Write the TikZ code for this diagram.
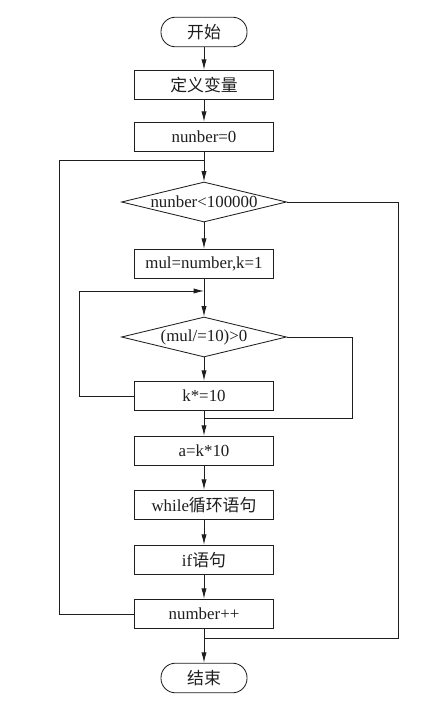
\documentclass[tikz,border=0pt]{standalone}
\usepackage{fontspec}
\setmainfont{Liberation Serif}
\newfontfamily\cjk{Noto Sans CJK SC}
\usepackage{tikz}
\usetikzlibrary{arrows.meta,shapes.geometric}
\definecolor{flink}{HTML}{1E1E1E}
\tikzset{
  fb/.style={draw=flink, text=flink, line width=0.6pt, align=center, font=\fontsize{12}{14}\selectfont},
  term/.style={fb, rounded corners=3.6mm, minimum width=2.15cm, minimum height=0.74cm},
  proc/.style={fb, minimum width=3.48cm, minimum height=0.74cm, inner sep=2pt},
  dec/.style={fb, diamond, aspect=4.125, inner xsep=-5pt, inner ysep=0pt, minimum width=4.125cm, minimum height=1cm},
  arr/.style={-{Latex[length=2.6mm,width=1.3mm]}, line width=0.6pt, color=flink},
  ln/.style={line width=0.6pt, color=flink},
}

\begin{document}
\begin{tikzpicture}[x=0.025cm, y=-0.025cm]
  \useasboundingbox (0,0) rectangle (442,704);
  % main column
  \node[term] (start) at (204,32) {\cjk 开始};
  \node[proc] (def) at (204,85) {\cjk 定义变量};
  \node[proc] (n0) at (204,137) {nunber=0};
  \node[dec] (d1) at (204,202) {nunber<100000};
  \node[proc] (mul) at (204,264) {mul=number,k=1};
  \node[dec] (d2) at (204,337) {(mul/=10)>0};
  \node[proc] (k) at (204,396) {k*=10};
  \node[proc] (a) at (204,451) {a=k*10};
  \node[proc] (wh) at (204,505) {while{\cjk 循环语句}};
  \node[proc] (if) at (204,560) {if{\cjk 语句}};
  \node[proc] (inc) at (204,614) {number++};
  \node[term] (stop) at (204,678) {\cjk 结束};
  % junctions on the column
  \coordinate (j1) at (204,160);
  \coordinate (j2) at (204,291);
  \coordinate (j3) at (204,418);
  \coordinate (j4) at (204,638);
  \draw[arr] (start) -- (def);
  \draw[arr] (def) -- (n0);
  \draw[arr] (n0) -- (d1);
  \draw[arr] (d1) -- (mul);
  \draw[arr] (mul) -- (d2);
  \draw[arr] (d2) -- (k);
  \draw[arr] (k) -- (a);
  \draw[arr] (a) -- (wh);
  \draw[arr] (wh) -- (if);
  \draw[arr] (if) -- (inc);
  \draw[arr] (inc) -- (stop);
  % inner loop
  \draw[arr] (k.west) -- ++(-55,0) |- (j2);
  \draw[ln] (d2.east) -- ++(65,0) |- (j3);
  % outer loop
  \draw[ln] (inc.west) -- ++(-75,0) |- (j1);
  \draw[ln] (d1.east) -- ++(111,0) |- (j4);
\end{tikzpicture}
\end{document}
